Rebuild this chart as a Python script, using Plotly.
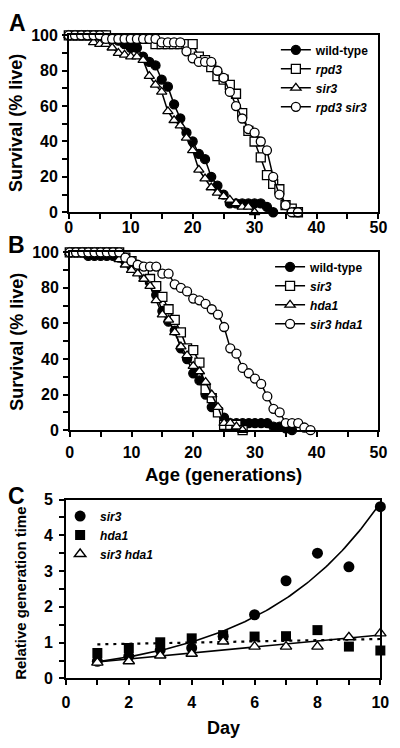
import numpy as np
import plotly.graph_objects as go

# ---------------- Panel A data (survival %, one point per generation) -------------
wt_a = [100, 100, 100, 100, 100, 100, 100, 98, 97, 95,
        93, 93, 88, 85, 83, 75, 71, 61, 53, 45,
        40, 33, 30, 20, 15, 10, 5, 5, 5, 5,
        5, 5, 3, 0]
rpd3_a = [100, 100, 100, 100, 100, 100, 100, 98, 98, 98,
          98, 98, 98, 98, 95, 95, 95, 95, 95, 95,
          95, 88, 86, 82, 77, 75, 72, 67, 56, 46,
          40, 31, 21, 16, 13, 4, 2, 0]
sir3_a = [100, 100, 100, 100, 96, 95, 95, 93, 90, 89,
          88, 88, 86, 77, 72, 68, 57, 52, 49, 42,
          35, 24, 19, 14, 11, 9, 7, 5, 3, 3,
          0]
rpd3sir3_a = [100, 100, 100, 100, 100, 100, 98, 98, 98, 98,
              98, 98, 98, 98, 98, 96, 96, 96, 96, 91,
              87, 85, 85, 85, 80, 76, 68, 60, 53, 47,
              45, 40, 35, 20, 10, 4, 0, 0]

# ---------------- Panel B data -------------
wt_b = [100, 100, 100, 98, 98, 98, 98, 98, 97, 95,
        92, 90, 87, 83, 76, 67, 61, 56, 46, 40,
        32, 28, 20, 13, 11, 7, 4, 4, 4, 4,
        4, 4, 4, 2, 2, 1, 0]
sir3_b = [100, 100, 100, 100, 100, 100, 100, 100, 100, 97,
          95, 92, 88, 85, 81, 75, 68, 62, 55, 46,
          45, 38, 23, 18, 10, 3, 3, 3, 0]
hda1_b = [100, 100, 100, 100, 100, 100, 100, 100, 96, 93,
          90, 88, 85, 81, 73, 65, 62, 55, 47, 42,
          36, 33, 27, 20, 13, 4, 4, 2, 0]
sir3hda1_b = [100, 100, 100, 100, 100, 100, 100, 100, 100, 97,
              95, 93, 92, 92, 92, 88, 88, 82, 80, 78,
              74, 73, 71, 68, 65, 58, 46, 43, 35, 32,
              29, 26, 19, 12, 10, 4, 4, 4, 1.5, 0]

# ---------------- Panel C data (relative generation time) -------------
days = [1, 2, 3, 4, 5, 6, 7, 8, 9, 10]
sir3_c = [0.48, 0.62, 0.80, 0.85, 1.18, 1.78, 2.73, 3.50, 3.12, 4.80]
hda1_c = [0.71, 0.85, 1.01, 1.12, 1.21, 1.17, 1.18, 1.35, 0.89, 0.78]
sir3hda1_c = [0.44, 0.48, 0.64, 0.69, 1.03, 0.89, 0.89, 0.89, 1.15, 1.26]

FONT = "Liberation Sans, Arial, sans-serif"
W, H = 400, 748


def gens(v):
    return list(range(len(v)))


def px_x(p):
    return p / W


def px_y(p):
    return 1 - p / H


fig = go.Figure()


def survival(vals, name, symbol, fill, xa, ya, legend):
    fig.add_trace(go.Scatter(
        x=gens(vals), y=vals, mode="lines+markers", name=name,
        xaxis=xa, yaxis=ya, legend=legend, cliponaxis=False,
        line=dict(color="black", width=1.5),
        marker=dict(symbol=symbol, size=9, color=fill,
                    line=dict(color="black", width=1.3)),
    ))


survival(wt_a, "<b>wild-type</b>", "circle", "black", "x", "y", "legend")
survival(rpd3_a, "<b><i>rpd3</i></b>", "square", "white", "x", "y", "legend")
survival(sir3_a, "<b><i>sir3</i></b>", "triangle-up", "white", "x", "y", "legend")
survival(rpd3sir3_a, "<b><i>rpd3 sir3</i></b>", "circle", "white", "x", "y", "legend")

survival(wt_b, "<b>wild-type</b>", "circle", "black", "x2", "y2", "legend2")
survival(sir3_b, "<b><i>sir3</i></b>", "square", "white", "x2", "y2", "legend2")
survival(hda1_b, "<b><i>hda1</i></b>", "triangle-up", "white", "x2", "y2", "legend2")
survival(sir3hda1_b, "<b><i>sir3 hda1</i></b>", "circle", "white", "x2", "y2", "legend2")

# ---- Panel C fits (exponential for sir3, linear for the others) ----
d = np.array(days, dtype=float)
xx = np.linspace(1, 10, 120)
b_e, a_e = np.polyfit(d, np.log(sir3_c), 1)
fit_sir3 = np.exp(a_e) * np.exp(b_e * xx)
p_h = np.polyfit(d, hda1_c, 1)
p_sh = np.polyfit(d, sir3hda1_c, 1)

fig.add_trace(go.Scatter(x=xx, y=fit_sir3, mode="lines", showlegend=False,
                         xaxis="x3", yaxis="y3", cliponaxis=False,
                         line=dict(color="black", width=1.6)))
fig.add_trace(go.Scatter(x=[1, 10], y=list(np.polyval(p_h, [1, 10])), mode="lines",
                         showlegend=False, xaxis="x3", yaxis="y3",
                         line=dict(color="black", width=2.2, dash="3px,5px")))
fig.add_trace(go.Scatter(x=[1, 10], y=list(np.polyval(p_sh, [1, 10])), mode="lines",
                         showlegend=False, xaxis="x3", yaxis="y3",
                         line=dict(color="black", width=1.6)))

fig.add_trace(go.Scatter(x=days, y=sir3_c, mode="markers", name="<b><i>sir3</i></b>",
                         xaxis="x3", yaxis="y3", legend="legend3", cliponaxis=False,
                         marker=dict(symbol="circle", size=11, color="black")))
fig.add_trace(go.Scatter(x=days, y=hda1_c, mode="markers", name="<b><i>hda1</i></b>",
                         xaxis="x3", yaxis="y3", legend="legend3", cliponaxis=False,
                         marker=dict(symbol="square", size=10, color="black")))
fig.add_trace(go.Scatter(x=days, y=sir3hda1_c, mode="markers", name="<b><i>sir3 hda1</i></b>",
                         xaxis="x3", yaxis="y3", legend="legend3", cliponaxis=False,
                         marker=dict(symbol="triangle-up", size=10, color="white",
                                     line=dict(color="black", width=1.4))))

tickfont = dict(family=FONT, size=16, color="black", weight="bold")


def axis(domain, rng, dtick, minor, anchor, standoff):
    return dict(domain=domain, range=rng, dtick=dtick, tick0=0, anchor=anchor,
                showline=True, linecolor="black", linewidth=1.5, mirror=True,
                ticks="outside", ticklen=5, tickwidth=1.5, tickcolor="black",
                minor=dict(dtick=minor, tick0=0, ticks="outside", ticklen=5,
                           tickwidth=1.5, tickcolor="black", showgrid=False),
                showgrid=False, zeroline=False, tickfont=tickfont,
                ticklabelstandoff=standoff, fixedrange=True)


layout = dict(
    width=W, height=H, margin=dict(l=0, r=0, t=0, b=0),
    paper_bgcolor="white", plot_bgcolor="white", showlegend=True,
    xaxis=axis([px_x(67), px_x(387)], [0, 50], 10, 5, "y", -5),
    yaxis=axis([px_y(209), px_y(28)], [0, 100], 20, 10, "x", 1),
    xaxis2=axis([px_x(68), px_x(387)], [0, 50], 10, 5, "y2", 2),
    yaxis2=axis([px_y(432), px_y(250)], [0, 100], 20, 10, "x2", 1),
    xaxis3=axis([px_x(64), px_x(389)], [0, 10], 2, 1, "y3", 4),
    yaxis3=axis([px_y(686), px_y(503)], [0, 5], 1, 0.5, "x3", 3),
)

leg_font = dict(family=FONT, size=12, color="black", weight="bold")
layout["legend"] = dict(x=px_x(281), y=px_y(28), xanchor="left", yanchor="top",
                        font=leg_font, bgcolor="rgba(0,0,0,0)", tracegroupgap=0,
                        itemclick=False)
layout["legend2"] = dict(x=px_x(275), y=px_y(250), xanchor="left", yanchor="top",
                         font=leg_font, bgcolor="rgba(0,0,0,0)", tracegroupgap=0,
                         itemclick=False)
layout["legend3"] = dict(x=px_x(58), y=px_y(505), xanchor="left", yanchor="top",
                         font=leg_font, bgcolor="rgba(0,0,0,0)", tracegroupgap=0,
                         itemclick=False)

fig.update_layout(**layout)


def label(text, x, y, size, angle=0):
    fig.add_annotation(text=text, x=px_x(x), y=px_y(y), xref="paper", yref="paper",
                       showarrow=False, textangle=angle, xanchor="center", yanchor="middle",
                       font=dict(family=FONT, size=size, color="black", weight="bold"))


label("A", 14, 15, 23)
label("B", 13, 243, 23)
label("C", 13, 499, 23)
label("Survival (% live)", 13, 118, 18, -90)
label("Survival (% live)", 14, 342, 18, -90)
label("Age (generations)", 227, 477, 18.5)
label("Relative generation time", 17, 599, 15, -90)
label("Day", 227, 737, 18)

fig.write_html(
    "out.html",
    config={"displayModeBar": False},
    post_script="document.body.style.margin='0';document.body.style.padding='0';"
                "document.body.style.overflow='hidden';",
)
